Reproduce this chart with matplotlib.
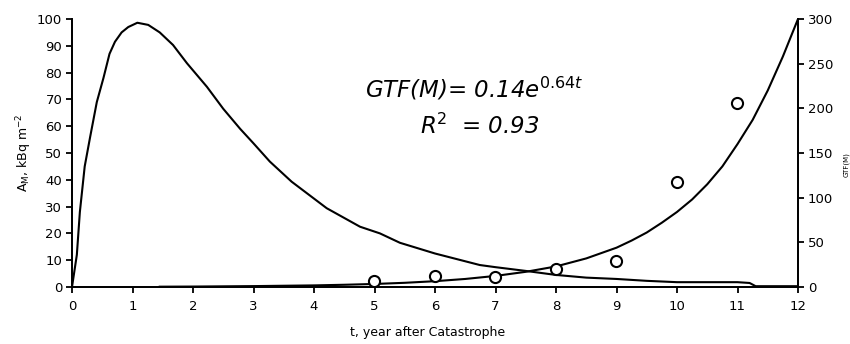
import numpy as np
import matplotlib
matplotlib.use("Agg")
import matplotlib.pyplot as plt

plt.rcParams['font.family'] = ['DejaVu Sans']
plt.rcParams['mathtext.fontset'] = 'dejavusans'

# ---- data ----
# A_M (left axis), kBq m^-2
t_am = [0, 0.08, 0.13, 0.21, 0.30, 0.41, 0.52, 0.62, 0.71, 0.82, 0.93, 1.08,
        1.26, 1.45, 1.67, 1.9, 2.23, 2.5, 2.78, 3.0, 3.27, 3.63, 4.21, 4.76,
        5.09, 5.42, 6.0, 6.74, 7.0, 7.5, 8.0, 8.5, 9.0, 9.5, 10.0, 10.5,
        11.0, 11.2, 11.3, 12.0]
am = [0, 12, 28, 45, 56, 69, 78, 87, 91.5, 95, 97, 98.6,
      97.8, 95, 90.3, 83.5, 74.7, 66.5, 59, 53.6, 46.8, 39.3, 29.4, 22.5,
      20, 16.5, 12.5, 8.2, 7.4, 6, 4.5, 3.5, 3, 2.3, 1.8, 1.8,
      1.8, 1.5, 0.3, 0.3]

# GTF(M) trend line (right axis)
t_fit = [1.45, 2, 3, 4, 4.5, 5, 5.5, 6, 6.5, 7, 7.5, 8, 8.5, 9, 9.25, 9.5,
         9.75, 10, 10.25, 10.5, 10.75, 11, 11.25, 11.5, 11.75, 12]
gtf_fit = [0.35, 0.5, 1, 1.8, 2.5, 3.4, 4.7, 6.5, 9, 12.4, 17, 23, 32, 44, 52, 61,
           72, 84, 98, 115, 135, 160, 187, 220, 258, 300]

# GTF(M) observed points (right axis)
t_obs = [5, 6, 7, 8, 9, 10, 11]
gtf_obs = [6.5, 12, 10.8, 19.8, 29.5, 118, 206]

x_ticks = list(range(0, 13))
left_ticks = list(range(0, 101, 10))
right_ticks = list(range(0, 301, 50))

# ---- figure ----
fig = plt.figure(figsize=(8.5, 3.44), dpi=100)
ax = fig.add_axes([72 / 850, 1 - 287 / 344, 726 / 850, 268 / 344])
ax2 = ax.twinx()

ax.plot(t_am, am, color='black', lw=1.5)
ax2.plot(t_fit, gtf_fit, color='black', lw=1.5)
ax2.plot(t_obs, gtf_obs, 'o', ms=8, mfc='white', mec='black', mew=1.5)

ax.set_xlim(0, 12)
ax.set_ylim(0, 100)
ax2.set_ylim(0, 300)
ax.set_xticks(x_ticks)
ax.set_yticks(left_ticks)
ax2.set_yticks(right_ticks)

for a in (ax, ax2):
    a.spines['top'].set_visible(False)
    for s in a.spines.values():
        s.set_linewidth(1.3)
    a.tick_params(direction='out', length=4, width=1.3, labelsize=9.5, pad=3)
ax.tick_params(axis='x', pad=5)

ax.set_xlabel('t, year after Catastrophe', fontsize=9)
ax.xaxis.set_label_coords(0.49, -0.145)
ax.set_ylabel(r'A$_{\mathrm{M}}$, kBq m$^{-2}$', fontsize=9)
ax.yaxis.set_label_coords(-0.052, 0.5)
ax2.set_ylabel('GTF(M)', fontsize=5)
ax2.yaxis.set_label_coords(1.062, 0.455)

# equation of the trend line (positions in figure pixels from top-left)
fig.text(365 / 850, 1 - 97 / 344, r'GTF(M)= 0.14e$^{\mathit{0.64t}}$',
         fontsize=16.5, style='italic', va='baseline', ha='left')
fig.text(420 / 850, 1 - 134 / 344, r'R$^{\mathit{2}}$  = 0.93',
         fontsize=16.5, style='italic', va='baseline', ha='left')

fig.savefig('out.png', dpi=100)
